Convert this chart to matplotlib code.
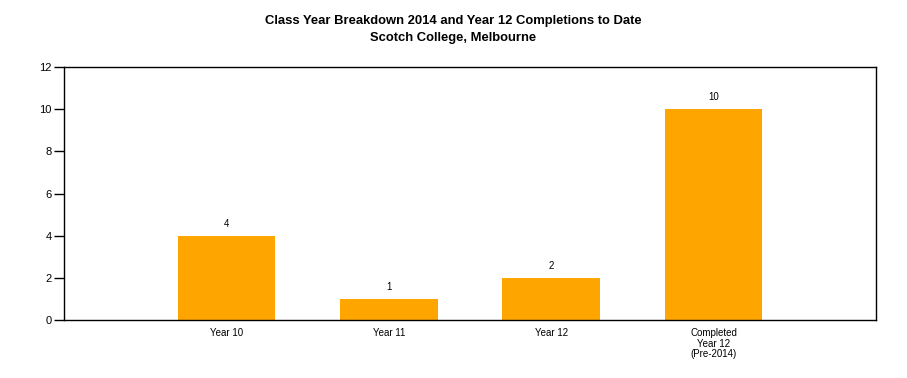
import matplotlib.pyplot as plt
import numpy as np

plt.rcParams["font.family"] = ["Liberation Sans", "DejaVu Sans"]

# Chart data
categories = ["Year 10", "Year 11", "Year 12", "Completed\nYear 12\n(Pre-2014)"]
counts = [4, 1, 2, 10]
bar_color = "#FFA500"


def plot_breakdown():
    fig = plt.figure(figsize=(9.07, 3.78), dpi=100)
    ax = fig.add_axes([64 / 907, 58 / 378, 812 / 907, 253 / 378])

    x = np.arange(1, len(categories) + 1)
    ax.bar(x, counts, width=0.6, color=bar_color, zorder=2)

    # Value labels above each bar
    for xi, v in zip(x, counts):
        ax.annotate(
            str(v), (xi, v), xytext=(0, 5), textcoords="offset points",
            ha="center", va="bottom", fontsize=7,
        )

    ax.set_xlim(0, len(categories) + 1)
    ax.set_ylim(0, 12)
    ax.set_yticks(range(0, 13, 2))
    ax.set_xticks(x)
    ax.set_xticklabels(categories, fontsize=7, linespacing=1.05)
    ax.tick_params(axis="x", length=0, pad=6)
    ax.tick_params(axis="y", length=7, width=1, labelsize=8, pad=2)
    for s in ax.spines.values():
        s.set_linewidth(1)

    fig.text(
        0.5, 1 - 15 / 378,
        "Class Year Breakdown 2014 and Year 12 Completions to Date\nScotch College, Melbourne",
        ha="center", va="top", fontsize=9.4, fontweight="bold",
        linespacing=1.6,
    )

    fig.savefig("out.png", dpi=100)


def main():
    plot_breakdown()


if __name__ == "__main__":
    main()
